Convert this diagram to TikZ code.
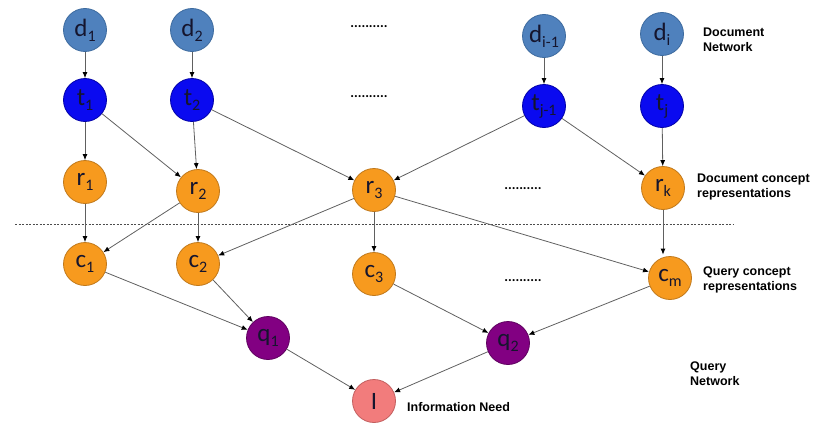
\documentclass[tikz,border=0pt]{standalone}
\usepackage{fontspec}
\setmainfont{Carlito}
\newfontfamily\lblfont{Liberation Sans}
\usetikzlibrary{arrows.meta}
\definecolor{dblue}{HTML}{4F81BD}
\definecolor{dbluel}{HTML}{3C6A9E}
\definecolor{tblue}{HTML}{0A0AF0}
\definecolor{tbluel}{HTML}{0000A8}
\definecolor{orng}{HTML}{F79A1E}
\definecolor{orngl}{HTML}{C0781A}
\definecolor{purp}{HTML}{820082}
\definecolor{purpl}{HTML}{5E005E}
\definecolor{pinkn}{HTML}{F27C7C}
\definecolor{pinkl}{HTML}{C25E5E}
\definecolor{edgec}{HTML}{606060}
\definecolor{ntext}{HTML}{15152E}
\newcommand\sbs[1]{\raisebox{-5pt}{\fontsize{16}{16}\selectfont #1}}
\tikzset{
  nd/.style={circle, minimum size=43pt, inner sep=0pt, line width=0.8pt,
     font=\fontsize{25}{25}\selectfont, text=ntext},
  dn/.style={nd, fill=dblue, draw=dbluel},
  tn/.style={nd, fill=tblue, draw=tbluel},
  on/.style={nd, fill=orng, draw=orngl},
  qn/.style={nd, fill=purp, draw=purpl},
  inn/.style={nd, fill=pinkn, draw=pinkl},
  ed/.style={draw=edgec, line width=0.8pt, -{Latex[length=6pt,width=5pt,color=black]}},
  lbl/.style={anchor=west, align=left, inner sep=0pt,
     font=\lblfont\bfseries\fontsize{12.5}{15}\selectfont},
  dots/.style={inner sep=0pt, font=\fontsize{14}{14}\selectfont\bfseries}
}
\begin{document}
\begin{tikzpicture}[x=1pt,y=-1pt]
\useasboundingbox (0,0) rectangle (817,423);
% dashed separator
\coordinate (dl) at (15,224);
\coordinate (dr) at (734,224);
\draw[black!70, line width=0.6pt, dash pattern=on 2pt off 1.5pt] (dl) -- (dr);
% nodes
\node[dn] (d1) at (85,30) {d\sbs{1}};
\node[dn] (d2) at (192,30) {d\sbs{2}};
\node[dn] (di1) at (544,36) {d\sbs{i-1}};
\node[dn] (di) at (662,34) {d\sbs{i}};
\node[tn] (t1) at (85,100) {t\sbs{1}};
\node[tn] (t2) at (192,100) {t\sbs{2}};
\node[tn] (tj1) at (544,106) {t\sbs{j-1}};
\node[tn] (tj) at (662,106) {t\sbs{j}};
\node[on] (r1) at (85,182) {r\sbs{1}};
\node[on] (r2) at (198,191) {r\sbs{2}};
\node[on] (r3) at (374,190) {r\sbs{3}};
\node[on] (rk) at (663,188) {r\sbs{k}};
\node[on] (c1) at (85,264) {c\sbs{1}};
\node[on] (c2) at (198,264) {c\sbs{2}};
\node[on] (c3) at (374,274) {c\sbs{3}};
\node[on] (cm) at (670,278) {c\sbs{m}};
\node[qn] (q1) at (268,338) {q\sbs{1}};
\node[qn] (q2) at (508,343) {q\sbs{2}};
\node[inn] (I) at (374,401) {I};
% dots
\node[dots] (x1) at (369,27) {..........};
\node[dots] (x2) at (369,97) {..........};
\node[dots] (x3) at (523,189) {..........};
\node[dots] (x4) at (523,281) {..........};
% edges
\draw[ed] (d1) -- (t1);
\draw[ed] (d2) -- (t2);
\draw[ed] (di1) -- (tj1);
\draw[ed] (di) -- (tj);
\draw[ed] (t1) -- (r1);
\draw[ed] (t1) -- (r2);
\draw[ed] (t2) -- (r2);
\draw[ed] (t2) -- (r3);
\draw[ed] (tj1) -- (r3);
\draw[ed] (tj1) -- (rk);
\draw[ed] (tj) -- (rk);
\draw[ed] (r1) -- (c1);
\draw[ed] (r2) -- (c1);
\draw[ed] (r2) -- (c2);
\draw[ed] (r3) -- (c2);
\draw[ed] (r3) -- (c3);
\draw[ed] (r3) -- (cm);
\draw[ed] (rk.south) -- ([yshift=1.5pt]rk.south |- cm.north);
\draw[ed] (c1) -- (q1);
\draw[ed] (c2) -- (q1);
\draw[ed] (c3) -- (q2);
\draw[ed] (cm) -- (q2);
\draw[ed] (q1) -- (I);
\draw[ed] (q2) -- (I);
% labels
\node[lbl] (L1) at (703,39.5) {Document\\Network};
\node[lbl] (L2) at (697,186.5) {Document concept\\representations};
\node[lbl] (L3) at (703,279.5) {Query concept\\representations};
\node[lbl] (L4) at (690,373.5) {Query\\Network};
\node[lbl] (L5) at (407,407) {Information Need};
\end{tikzpicture}
\end{document}
